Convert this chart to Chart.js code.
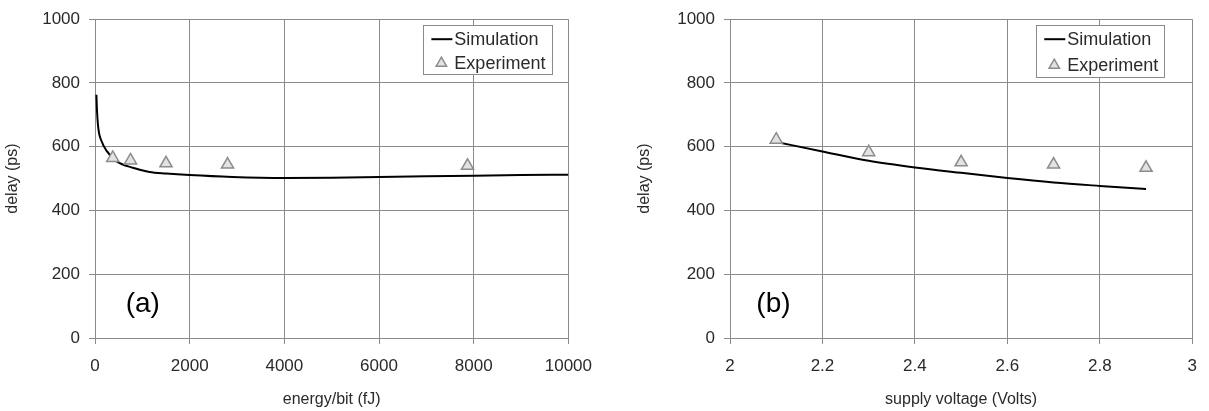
<!DOCTYPE html>
<html>
<head>
<meta charset="utf-8">
<script src="https://cdn.jsdelivr.net/npm/chart.js@4/dist/chart.umd.min.js"></script>
<style>
  html, body { margin: 0; padding: 0; background: #fff; }
  #wrap { position: relative; width: 1209px; height: 411px; }
  canvas { position: absolute; top: 0; }
  #chartA { left: 0; }
  #chartB { left: 604px; }
</style>
</head>
<body>
<div id="wrap">
  <canvas id="chartA" width="604" height="411"></canvas>
  <canvas id="chartB" width="605" height="411"></canvas>
</div>
<script>
// ---- data ----
// (a) delay vs energy/bit
const simEnergy = [30, 40, 70, 140, 250, 450, 800, 1150, 1500, 2000, 2900, 4000, 5000, 6000, 7000, 8000, 9000, 10000];
const simDelayA = [763, 720, 658, 617, 586, 555, 534, 521, 516, 511, 505, 502, 503, 505, 507, 509, 511, 512];
const expEnergy = [375, 750, 1500, 2800, 7870];
const expDelayA = [565, 557, 548, 544, 540];

// (b) delay vs supply voltage
const simVolt = [2.1, 2.2, 2.3, 2.4, 2.5, 2.6, 2.7, 2.8, 2.9];
const simDelayB = [615, 585, 556, 535, 518, 502, 488, 477, 467];
const expVolt = [2.1, 2.3, 2.5, 2.7, 2.9];
const expDelayB = [622, 583, 551, 544, 534];

const seriesLabels = ['Simulation', 'Experiment'];
const delayTicks = { min: 0, max: 1000, step: 200 };

const FONT = "'Liberation Sans', Arial, sans-serif";
const GRID = '#8a8a8a';
const TEXT = '#2a2a2a';

function pairs(xs, ys) {
    return xs.map((x, i) => ({ x: x, y: ys[i] }));
}

// boxed legend drawn inside the plot area, plus the (a)/(b) panel tag
const boxLegend = {
    id: 'boxLegend',
    afterDraw(chart, args, opts) {
        const ctx = chart.ctx;
        const area = chart.chartArea;
        const x0 = area.right - opts.right - opts.width;
        const y0 = area.top + opts.top;
        ctx.save();
        ctx.fillStyle = '#fff';
        ctx.fillRect(x0, y0, opts.width, opts.height);
        ctx.strokeStyle = '#8a8a8a';
        ctx.lineWidth = 1;
        ctx.strokeRect(Math.round(x0) + 0.5, Math.round(y0) + 0.5, opts.width, opts.height);

        ctx.font = '18px ' + FONT;
        ctx.fillStyle = TEXT;
        ctx.textBaseline = 'middle';
        ctx.textAlign = 'left';

        const ds = chart.data.datasets;
        // line sample
        const rowA = y0 + opts.row1;
        ctx.strokeStyle = ds[0].borderColor;
        ctx.lineWidth = ds[0].borderWidth;
        ctx.beginPath();
        ctx.moveTo(x0 + 8, rowA);
        ctx.lineTo(x0 + 29, rowA);
        ctx.stroke();
        ctx.fillText(ds[0].label, x0 + 31, rowA + 1);

        // marker sample
        const rowB = y0 + opts.row2;
        ctx.fillStyle = ds[1].pointBackgroundColor;
        ctx.strokeStyle = ds[1].pointBorderColor;
        ctx.lineWidth = ds[1].pointBorderWidth;
        Chart.helpers.drawPoint(ctx, { pointStyle: 'triangle', radius: 6, rotation: 0, borderWidth: ds[1].pointBorderWidth }, x0 + 18, rowB);
        ctx.fillStyle = TEXT;
        ctx.fillText(ds[1].label, x0 + 31, rowB + 1);

        // panel tag
        const tag = opts.tag;
        ctx.font = '28px ' + FONT;
        ctx.fillStyle = '#000';
        ctx.textAlign = 'center';
        ctx.fillText(tag.text, chart.scales.x.getPixelForValue(tag.x), chart.scales.y.getPixelForValue(tag.y));
        ctx.restore();
    }
};

function makeChart(id, cfg) {
    const el = document.getElementById(id);
    return new Chart(el, {
        type: 'scatter',
        data: {
            datasets: [
                {
                    label: seriesLabels[0],
                    data: pairs(cfg.simX, cfg.simY),
                    showLine: true,
                    borderColor: '#000',
                    borderWidth: 2,
                    pointRadius: 0,
                    cubicInterpolationMode: 'monotone',
                    order: 2
                },
                {
                    label: seriesLabels[1],
                    data: pairs(cfg.expX, cfg.expY),
                    showLine: false,
                    pointStyle: 'triangle',
                    pointRadius: 7,
                    pointBackgroundColor: '#e2e2e2',
                    pointBorderColor: '#8c8c8c',
                    pointBorderWidth: 1.5,
                    order: 1
                }
            ]
        },
        options: {
            responsive: false,
            animation: false,
            events: [],
            layout: { padding: { left: 0, right: cfg.padRight, top: 17, bottom: 0 } },
            plugins: {
                legend: { display: false },
                tooltip: { enabled: false },
                boxLegend: cfg.legend
            },
            scales: {
                x: {
                    type: 'linear',
                    min: cfg.xMin,
                    max: cfg.xMax,
                    afterFit: s => { s.height = 73; },
                    ticks: {
                        stepSize: cfg.xStep,
                        color: TEXT,
                        padding: 12,
                        font: { family: FONT, size: 17 },
                        callback: cfg.xFmt
                    },
                    grid: { color: GRID, tickLength: 6, lineWidth: 1 },
                    border: { color: GRID },
                    title: {
                        display: true,
                        text: cfg.xTitle,
                        color: TEXT,
                        font: { family: FONT, size: 16 },
                        padding: { top: 0, bottom: 2 }
                    }
                },
                y: {
                    min: delayTicks.min,
                    max: delayTicks.max,
                    afterFit: s => { s.width = cfg.yWidth; },
                    ticks: {
                        stepSize: delayTicks.step,
                        color: TEXT,
                        padding: 9,
                        font: { family: FONT, size: 17 },
                        callback: v => String(v)
                    },
                    grid: { color: GRID, tickLength: 6, lineWidth: 1 },
                    border: { color: GRID },
                    title: {
                        display: true,
                        text: 'delay (ps)',
                        color: TEXT,
                        font: { family: FONT, size: 16 },
                        padding: { top: cfg.yTitlePad, bottom: 0 }
                    }
                }
            }
        },
        plugins: [boxLegend]
    });
}

makeChart('chartA', {
    simX: simEnergy, simY: simDelayA, expX: expEnergy, expY: expDelayA,
    xMin: 0, xMax: 10000, xStep: 2000,
    xFmt: v => String(v),
    xTitle: 'energy/bit (fJ)',
    padRight: 33, yWidth: 95, yTitlePad: 3,
    legend: { right: 16, top: 6, width: 129, height: 49, row1: 14, row2: 38,
              tag: { text: '(a)', x: 1010, y: 105 } }
});

makeChart('chartB', {
    simX: simVolt, simY: simDelayB, expX: expVolt, expY: expDelayB,
    xMin: 2, xMax: 3, xStep: 0.2,
    xFmt: v => String(Number(v.toFixed(1))),
    xTitle: 'supply voltage (Volts)',
    padRight: 12, yWidth: 126, yTitlePad: 31,
    legend: { right: 28, top: 6, width: 128, height: 52, row1: 14, row2: 40,
              tag: { text: '(b)', x: 2.094, y: 105 } }
});
</script>
</body>
</html>
